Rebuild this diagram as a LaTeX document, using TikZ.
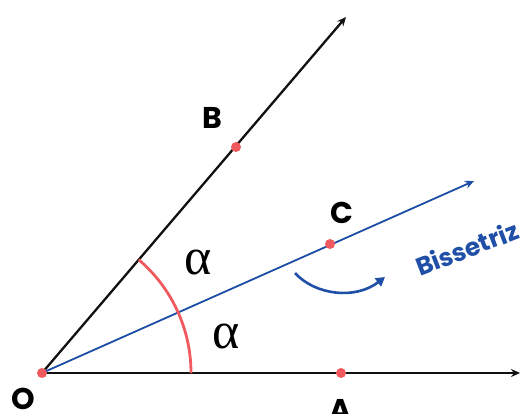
\documentclass[tikz,border=0pt]{standalone}
\usepackage{fontspec}
\setmainfont{Poppins}
\newfontfamily\grkfont{Liberation Serif}
\usetikzlibrary{arrows.meta}
\definecolor{rayblack}{HTML}{111111}
\definecolor{bisblue}{HTML}{1F4FA6}
\definecolor{ptred}{HTML}{F05A5E}
\tikzset{
  ray/.style={line width=2.3pt, draw=rayblack, -{Stealth[length=9pt,width=8pt]}},
  bisray/.style={line width=1.8pt, draw=bisblue, -{Stealth[length=9pt,width=8pt]}},
  pt/.style={circle, fill=ptred, inner sep=0pt, minimum size=10pt},
  lbl/.style={font=\fontsize{30}{30}\selectfont\bfseries, text=black},
  alph/.style={text=black, inner sep=0pt, font=\grkfont\fontsize{52}{52}\selectfont}
}
\begin{document}
\begin{tikzpicture}[x=1pt,y=-1pt]
\useasboundingbox (0,0) rectangle (526,413);
\coordinate (O) at (42,373);
\coordinate (Aend) at (520,373);
\coordinate (Bend) at (346,17);
\coordinate (Cend) at (474,181);
\draw[ray] (O) -- (Aend);
\draw[ray] (O) -- (Bend);
\draw[bisray] (O) -- (Cend);
\draw[ptred, line width=2.8pt] ([shift={(0:149pt)}]O) arc[start angle=0, end angle=49.5, radius=149pt];
\node[pt] (A) at (341,373) {};
\node[pt] (B) at (236,147) {};
\node[pt] (C) at (330,244) {};
\node[pt] (Op) at (42,373) {};
\node[lbl] (Al) at (341,410) {A};
\node[lbl] (Bl) at (212,118) {B};
\node[lbl] (Cl) at (342,213) {C};
\node[lbl] (Ol) at (23,399) {O};
\node[alph] (a1) at (198,262) {α};
\node[alph] (a2) at (226,336) {α};
\node[font=\fontsize{25}{25}\selectfont\bfseries, text=bisblue, rotate=21, inner sep=0pt] (bis) at (467,248) {Bissetriz};
\coordinate (cs) at (295,273);
\coordinate (ce) at (385,277);
\draw[bisblue, line width=2.6pt, -{Stealth[length=9pt,width=10pt,inset=0pt]}] (cs) .. controls (315,295) and (355,300) .. (ce);
\end{tikzpicture}
\end{document}
